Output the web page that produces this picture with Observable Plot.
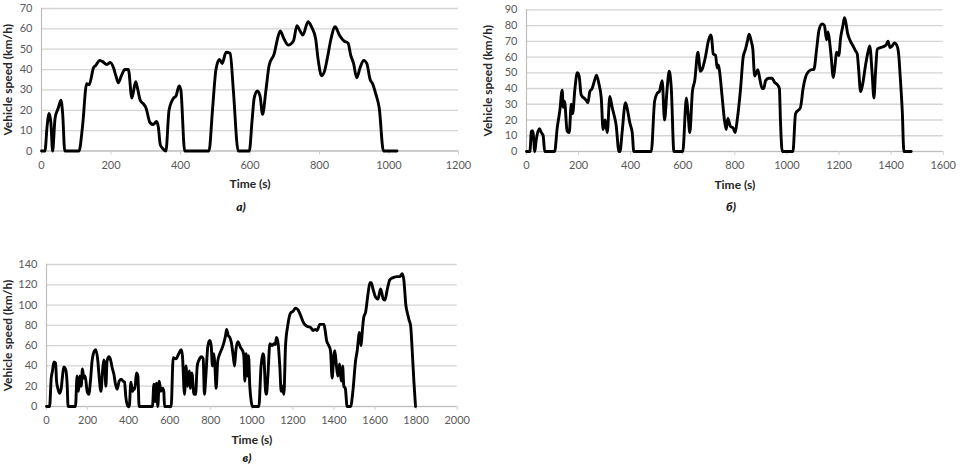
<!DOCTYPE html>
<html><head><meta charset="utf-8">
<script src="https://cdn.jsdelivr.net/npm/d3@7"></script>
<script src="https://cdn.jsdelivr.net/npm/@observablehq/plot@0.6"></script>
<style>
body{margin:0;background:#fff;}
#wrap{position:relative;width:961px;height:465px;overflow:hidden;font-family:Lato,"Liberation Sans",sans-serif;}
.panel{position:absolute;}
.cap{position:absolute;font-style:italic;font-weight:900;font-size:12px;font-family:Lato,"Liberation Sans",sans-serif;color:#1a1a1a;transform:translate(-50%,-50%);}
</style></head>
<body><div id="wrap"></div>
<script>
// Panel а) — city cycle
const timeA  = [0,10,16,22,27,32,39,48,56,61,67,108,118,130,137,150,156,167,175,188,198,207,214,221,230,240,250,260,271,276,284,294,301,312,321,331,336,342,350,358,367,380,387,396,401,412,482,492,502,512,520,531,543,552,566,598,606,612,621,629,636,646,655,670,679,687,698,710,725,735,744,752,767,777,789,796,806,814,823,833,845,857,871,882,890,898,907,917,927,936,946,953,962,972,984,1023];
const speedA = [0,0,12,18.5,14,0,16,21,25,18,0,0,12,33,32.5,41,42,44.5,44,42.5,43.5,41,37,33.5,37,40,40,26,34,31,25,23,21,14,13,14.5,12,3,1,0,20,26,27,32,30,0,0,20,40,45,43,48.5,48,30,0,0,15,26,29.5,27,18,30,42,48,55,59,55,52,54,61.5,59,57,63.5,61,55,45,37,39,46,55,61,57,54,53,47,43,36,41,44.5,43,35,33,28,21,0,0];

// Panel б)
const timeB  = [0,13,19,24,32,37,50,57,64,70,108,118,128,137,141,146,156,164,172,177,186,195,202,210,227,236,243,252,261,269,278,287,294,302,310,320,329,335,344,355,359,367,380,387,397,406,412,479,492,502,510,521,530,540,548,556,566,600,614,620,627,637,646,658,668,674,687,698,707,711,717,726,732,737,742,751,760,767,773,783,793,801,809,822,832,841,848,855,863,869,876,883,888,896,905,911,918,930,943,952,965,971,975,982,1023,1033,1052,1062,1071,1084,1097,1103,1114,1123,1135,1144,1152,1158,1165,1170,1178,1185,1190,1199,1206,1215,1221,1226,1233,1244,1254,1263,1270,1274,1283,1290,1302,1311,1318,1327,1334,1340,1347,1359,1375,1382,1388,1396,1404,1413,1423,1430,1434,1443,1449,1477];
const speedB = [0,0,13,13,0,7,14.5,12,10,0,0,15,26,39,28,32,13,12,30,24,40,50,48,36,33,31,38,40,45,48.5,43,34,14,20,12,35,28,24,17,0,0,12,31,27,18,12,0,0,32,37,38,45,20,40,51,40,0,0,34,25,12,38,45,63,51,52,60,70,74,72,62,61,53,55,50,35,20,14,21,16,15,12,20,40,60,65,70,74.5,70,65,48,50,52,46,40,40,45,46.5,46.5,44,42,40,20,0,0,24,28,40,47,51,52,52,65,77,81,80,71,76,68,60,47,55,63,61,72,80,85,82,75,70,67,64,62,55,38,42,55,63,67,50,34,50,65,66,67,68,70,66,67,69,67,60,50,25,0,0];

// Panel в)
const timeC  = [0,15,23,29,36,44,49,55,63,71,78,84,94,101,105,141,149,156,162,169,175,182,188,198,206,214,222,234,240,250,256,265,273,279,284,289,295,304,312,320,328,336,344,354,364,373,380,386,396,403,411,419,425,430,438,445,451,516,523,529,536,542,549,557,565,571,575,607,617,630,644,656,662,672,679,687,695,701,708,718,726,734,743,755,763,769,776,786,795,802,808,815,820,826,834,844,856,864,872,877,885,893,901,909,916,922,932,945,955,961,966,972,979,984,990,997,1002,1034,1045,1054,1058,1067,1071,1078,1088,1099,1107,1114,1120,1128,1136,1143,1149,1156,1164,1175,1188,1201,1213,1226,1237,1253,1269,1286,1299,1310,1318,1331,1351,1357,1364,1375,1383,1391,1399,1404,1412,1419,1427,1435,1442,1448,1455,1464,1481,1492,1505,1513,1524,1532,1537,1545,1554,1565,1575,1581,1591,1602,1614,1627,1640,1648,1659,1672,1688,1708,1721,1732,1740,1750,1760,1766,1773,1781,1789,1797];
const speedC = [0,0,28,35,44,43,25,18,13,17,30,39,36,20,0,0,30,15,30,20,37,28,30,15,12,25,45,55,56,45,30,15,35,46,40,20,45,49,46,38,32,22,17,25,27,25,24,10,0,0,24,15,18,17,33,30,0,0,22,5,23,0,25,15,18,15,0,0,48,47,52,56,50,12,40,20,35,18,33,12,12,40,46,49,47,12,30,60,65,60,40,52,40,18,45,52,58,63,70,76,70,68,62,50,40,55,64,58,55,50,25,52,30,50,20,5,0,0,40,52,50,15,12,30,62,60,62,61,68,62,40,15,20,12,60,80,92,94,97,95,90,82,79,78,75,76,75,81,81,75,65,60,55,28,50,55,40,30,42,25,40,20,18,0,0,15,45,55,73,60,72,88,93,110,122,122,115,108,106,116,106,105,115,125,127,128,128,131,125,100,90,85,80,55,25,0];

const xTicksA = d3.range(0, 1201, 200), yTicksA = d3.range(0, 71, 10);
const xTicksB = d3.range(0, 1601, 200), yTicksB = d3.range(0, 91, 10);
const xTicksC = d3.range(0, 2001, 200), yTicksC = d3.range(0, 141, 20);

const yTitle = "Vehicle speed (km/h)", xTitle = "Time (s)";
const captions = ["а)", "б)", "в)"];

const FONT = "Lato, 'Liberation Sans', sans-serif";

function panel(time, speed, xTicks, yTicks, opt) {
  const data = time.map((t, i) => ({t, v: speed[i]}));
  const xMax = xTicks[xTicks.length - 1], yMax = yTicks[yTicks.length - 1];
  return Plot.plot({
    width: opt.width, height: opt.height,
    marginLeft: opt.ml, marginRight: opt.mr, marginTop: opt.mt, marginBottom: opt.mb,
    style: {fontFamily: FONT, fontSize: "11px", color: "#595959", background: "transparent", overflow: "visible"},
    x: {domain: [0, xMax]},
    y: {domain: [0, yMax]},
    marks: [
      Plot.gridY(yTicks, {stroke: "#d4d4d4", strokeOpacity: 1, strokeWidth: 1.3}),
      Plot.ruleX([0], {stroke: "#bdbdbd", strokeWidth: 1.2}),
      Plot.ruleY([0], {stroke: "#bdbdbd", strokeWidth: 1.2}),
      Plot.axisY(yTicks, {tickSize: 0, tickPadding: 9, tickFormat: d3.format("d"), fill: "#595959",
        label: yTitle, labelAnchor: "center", labelArrow: "none", labelOffset: opt.ml - 3}),
      Plot.axisX(xTicks, {tickSize: 4, tickPadding: 6, stroke: "#d0d0d0", tickFormat: d3.format("d"), fill: "#595959",
        label: xTitle, labelAnchor: "center", labelArrow: "none", labelOffset: opt.lo}),
      Plot.lineY(data, {x: "t", y: "v", stroke: "#000", strokeWidth: 2.9, curve: "monotone-x", strokeLinejoin: "round"})
    ]
  });
}

const wrap = document.getElementById("wrap");
function place(el, left, top) {
  el.classList.add("panel");
  el.style.left = left + "px"; el.style.top = top + "px";
  wrap.appendChild(el);
}
function cap(text, x, y) {
  const d = document.createElement("div");
  d.className = "cap"; d.textContent = text;
  d.style.left = x + "px"; d.style.top = y + "px";
  wrap.appendChild(d);
}

place(panel(timeA, speedA, xTicksA, yTicksA, {width: 470, height: 200, ml: 41, mr: 12, mt: 8, mb: 49.5, lo: 37}), 0, 0);
place(panel(timeB, speedB, xTicksB, yTicksB, {width: 475, height: 200, ml: 46, mr: 12.3, mt: 9.3, mb: 49, lo: 37}), 480, 0);
place(panel(timeC, speedC, xTicksC, yTicksC, {width: 470, height: 200, ml: 46, mr: 13.3, mt: 12, mb: 46, lo: 37}), 0, 252);

cap(captions[0], 241, 206);
cap(captions[1], 731, 206);
cap(captions[2], 247, 457);

// axis titles: bold, darker, slightly larger
document.querySelectorAll("svg g[aria-label='y-axis label'] text, svg g[aria-label='x-axis label'] text").forEach(t => {
  t.setAttribute("font-weight", "bold"); t.setAttribute("fill", "#262626"); t.setAttribute("font-size", "12px");
});
</script>
</body></html>
